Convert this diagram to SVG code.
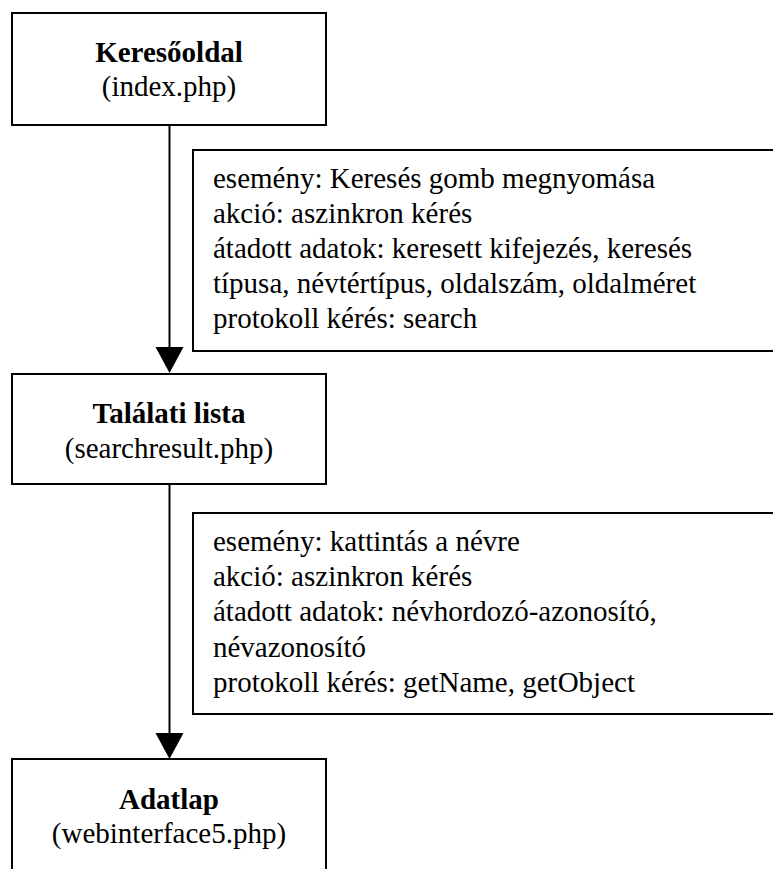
<svg xmlns="http://www.w3.org/2000/svg" width="773" height="869" viewBox="0 0 773 869">
  <style>
    .box { fill: #ffffff; stroke: #000000; stroke-width: 2; }
    .wire { stroke: #000000; stroke-width: 2; fill: none; }
    .head { fill: #000000; stroke: none; }
  </style>
  <rect width="773" height="869" fill="#ffffff"/>

  <g id="connectors">
    <line class="wire" x1="169.5" y1="126" x2="169.5" y2="348"/>
    <polygon class="head" points="155.5,347 183.5,347 169.5,373"/>
    <line class="wire" x1="169.5" y1="484" x2="169.5" y2="734"/>
    <polygon class="head" points="155.5,733 183.5,733 169.5,759"/>
  </g>

  <g font-family="Liberation Serif" font-size="29" fill="#000000">
    <g id="kereso">
      <rect class="box" x="12" y="13" width="314" height="112"/>
      <text x="169" y="62" font-weight="bold" text-anchor="middle">Keresőoldal</text>
      <text x="169" y="96" text-anchor="middle">(index.php)</text>
    </g>

    <g id="note-search">
      <rect class="box" x="193" y="150" width="600" height="201"/>
      <text x="213" y="188">esemény: Keresés gomb megnyomása</text>
      <text x="213" y="223">akció: aszinkron kérés</text>
      <text x="213" y="258">átadott adatok: keresett kifejezés, keresés</text>
      <text x="213" y="293">típusa, névtértípus, oldalszám, oldalméret</text>
      <text x="213" y="328">protokoll kérés: search</text>
    </g>

    <g id="talalati">
      <rect class="box" x="12" y="374" width="314" height="110"/>
      <text x="169" y="423" font-weight="bold" text-anchor="middle">Találati lista</text>
      <text x="169" y="458" text-anchor="middle">(searchresult.php)</text>
    </g>

    <g id="note-name">
      <rect class="box" x="193" y="513" width="600" height="201"/>
      <text x="213" y="551">esemény: kattintás a névre</text>
      <text x="213" y="586">akció: aszinkron kérés</text>
      <text x="213" y="621">átadott adatok: névhordozó-azonosító,</text>
      <text x="213" y="657">névazonosító</text>
      <text x="213" y="692">protokoll kérés: getName, getObject</text>
    </g>

    <g id="adatlap">
      <rect class="box" x="12" y="759" width="314" height="130"/>
      <text x="169" y="809" font-weight="bold" text-anchor="middle">Adatlap</text>
      <text x="169" y="843" text-anchor="middle">(webinterface5.php)</text>
    </g>
  </g>
</svg>
